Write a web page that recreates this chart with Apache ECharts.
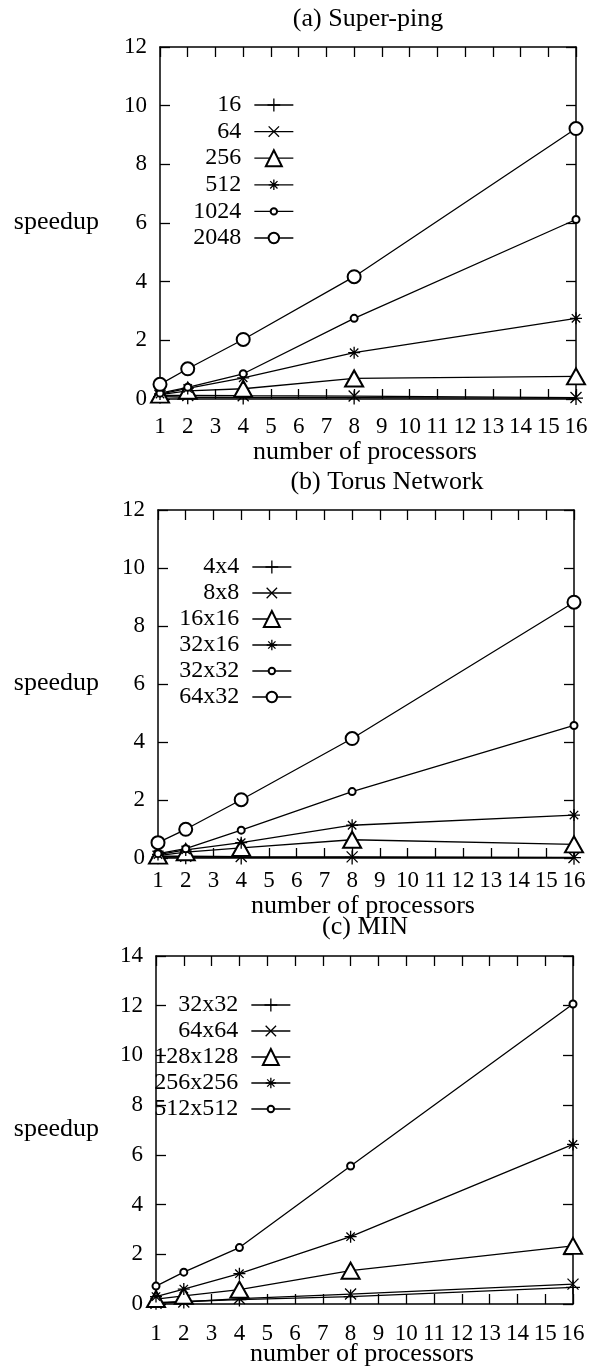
<!DOCTYPE html>
<html>
<head>
<meta charset="utf-8">
<script src="https://cdn.jsdelivr.net/npm/echarts@6/dist/echarts.min.js"></script>
<style>
  html, body { margin: 0; padding: 0; background: #fff; }
  #chart { width: 594px; height: 1367px; }
</style>
</head>
<body>
<div id="chart"></div>
<script>
// number of processors that were measured
const procs = [1, 2, 4, 8, 16];

// (a) Super-ping
const pingSizes = ['16', '64', '256', '512', '1024', '2048'];
const ping16 = [0.08, 0.06, 0.05, 0.05, 0.03];
const ping64 = [0.12, 0.12, 0.11, 0.10, 0.05];
const ping256 = [0.15, 0.28, 0.35, 0.70, 0.77];
const ping512 = [0.17, 0.36, 0.72, 1.58, 2.75];
const ping1024 = [0.20, 0.40, 0.86, 2.75, 6.12];
const ping2048 = [0.50, 1.03, 2.03, 4.17, 9.22];

// (b) Torus Network
const torusSizes = ['4x4', '8x8', '16x16', '32x16', '32x32', '64x32'];
const torus4x4 = [0.03, 0.03, 0.02, 0.02, 0.01];
const torus8x8 = [0.06, 0.06, 0.05, 0.04, 0.02];
const torus16x16 = [0.08, 0.20, 0.35, 0.63, 0.47];
const torus32x16 = [0.12, 0.28, 0.53, 1.13, 1.48];
const torus32x32 = [0.15, 0.32, 0.96, 2.29, 4.57];
const torus64x32 = [0.53, 0.99, 2.01, 4.12, 8.82];

// (c) MIN
const minSizes = ['32x32', '64x64', '128x128', '256x256', '512x512'];
const min32 = [0.05, 0.10, 0.18, 0.30, 0.67];
const min64 = [0.03, 0.08, 0.22, 0.40, 0.80];
const min128 = [0.20, 0.33, 0.58, 1.34, 2.34];
const min256 = [0.30, 0.60, 1.22, 2.71, 6.42];
const min512 = [0.72, 1.28, 2.27, 5.55, 12.07];

const yMax = [12, 12, 14];
const panelTitles = ['(a) Super-ping', '(b) Torus Network', '(c) MIN'];
const xName = 'number of processors';
const yName = 'speedup';

const FONT = 'Liberation Serif';

// gnuplot point types (size on the plot, size of legend icon box)
const SYM = {
  plus: { symbol: 'path://M0,-1L0,1M-1,0L1,0', size: 14, legend: 16 },
  cross: { symbol: 'path://M-1,-1L1,1M-1,1L1,-1', size: 11, legend: 13 },
  tri: { symbol: 'emptyTriangle', size: [18, 16], legend: 20 },
  star: { symbol: 'path://M0,-1L0,1M-1,0L1,0M-0.7,-0.7L0.7,0.7M-0.7,0.7L0.7,-0.7', size: 12, legend: 13 },
  dot: { symbol: 'emptyCircle', size: 7, legend: 8 },
  circle: { symbol: 'emptyCircle', size: 13, legend: 13 }
};
const symOrder = ['plus', 'cross', 'tri', 'star', 'dot', 'circle'];

const panels = [
  { sizes: pingSizes, values: [ping16, ping64, ping256, ping512, ping1024, ping2048] },
  { sizes: torusSizes, values: [torus4x4, torus8x8, torus16x16, torus32x16, torus32x32, torus64x32] },
  { sizes: minSizes, values: [min32, min64, min128, min256, min512] }
];

// layout
const grids = [
  { left: 160, top: 47, width: 416, height: 352 },
  { left: 158, top: 510, width: 416, height: 348 },
  { left: 156, top: 956, width: 417, height: 348 }
];
const labelMargin = [16, 11, 18];
const titlePos = [{ x: 368, y: 6 }, { x: 387, y: 469 }, { x: 365, y: 914 }];
const xNamePos = [{ x: 365, y: 439 }, { x: 363, y: 893 }, { x: 362, y: 1341 }];
const legendPos = [
  { right: 300, center: 105, pitch: 26.6 },
  { right: 302, center: 567, pitch: 26 },
  { right: 303, center: 1005, pitch: 26 }
];

const xAxes = [];
const yAxes = [];
const series = [];
const legends = [];
const titles = [];

const axisLine = () => ({ show: true, onZero: false, lineStyle: { color: '#000', width: 1.5 } });
const axisTick = () => ({ show: true, inside: true, length: 10, lineStyle: { color: '#000', width: 1.3 } });
const tickLabel = (margin) => ({ margin, color: '#000', fontFamily: FONT, fontSize: 23 });
const textStyle = () => ({ color: '#000', fontFamily: FONT, fontSize: 26, fontWeight: 'normal' });

panels.forEach((p, i) => {
  xAxes.push({
    type: 'value', gridIndex: i, min: 1, max: 16, interval: 1, position: 'bottom',
    axisLine: axisLine(), axisTick: axisTick(), splitLine: { show: false },
    axisLabel: tickLabel(labelMargin[i])
  });
  xAxes.push({
    type: 'value', gridIndex: i, min: 1, max: 16, interval: 1, position: 'top',
    axisLine: axisLine(), axisTick: axisTick(), splitLine: { show: false },
    axisLabel: { show: false }
  });
  yAxes.push({
    type: 'value', gridIndex: i, min: 0, max: yMax[i], interval: 2, position: 'left',
    axisLine: axisLine(), axisTick: axisTick(), splitLine: { show: false },
    axisLabel: tickLabel(13)
  });
  yAxes.push({
    type: 'value', gridIndex: i, min: 0, max: yMax[i], interval: 2, position: 'right',
    axisLine: axisLine(), axisTick: axisTick(), splitLine: { show: false },
    axisLabel: { show: false }
  });

  // panel title, x label and y label as title components (outside the grid layout)
  titles.push({ text: panelTitles[i], left: titlePos[i].x, top: titlePos[i].y, textAlign: 'center', padding: 0, textStyle: textStyle() });
  titles.push({ text: xName, left: xNamePos[i].x, top: xNamePos[i].y, textAlign: 'center', padding: 0, textStyle: textStyle() });
  titles.push({ text: yName, left: 99, top: grids[i].top + grids[i].height / 2 - 14, textAlign: 'right', padding: 0, textStyle: textStyle() });

  p.sizes.forEach((s, k) => {
    const sym = SYM[symOrder[k]];
    const name = i + ':' + s;
    series.push({
      type: 'line', name,
      xAxisIndex: i * 2, yAxisIndex: i * 2,
      data: procs.map((n, j) => [n, p.values[k][j]]),
      symbol: sym.symbol, symbolSize: sym.size,
      lineStyle: { color: '#000', width: 1.3 },
      itemStyle: { color: '#000', borderColor: '#000', borderWidth: 1.3 },
      z: 2 + k
    });
    // one legend per entry so each icon keeps its own marker size
    legends.push({
      data: [name], orient: 'vertical', align: 'right',
      right: legendPos[i].right, top: legendPos[i].center + k * legendPos[i].pitch - 13,
      itemWidth: 39, itemHeight: sym.legend, padding: 0, selectedMode: false,
      formatter: (n) => n.slice(n.indexOf(':') + 1),
      itemStyle: { borderWidth: 1.3 },
      lineStyle: { width: 1.3 },
      textStyle: { color: '#000', fontFamily: FONT, fontSize: 24, lineHeight: 26, padding: [0, 8, 0, 0] }
    });
  });
});

const chart = echarts.init(document.getElementById('chart'));
chart.setOption({
  animation: false,
  title: titles,
  legend: legends,
  grid: grids.map((g) => Object.assign({ outerBoundsMode: 'none', containLabel: false }, g)),
  xAxis: xAxes,
  yAxis: yAxes,
  series
});
</script>
</body>
</html>
